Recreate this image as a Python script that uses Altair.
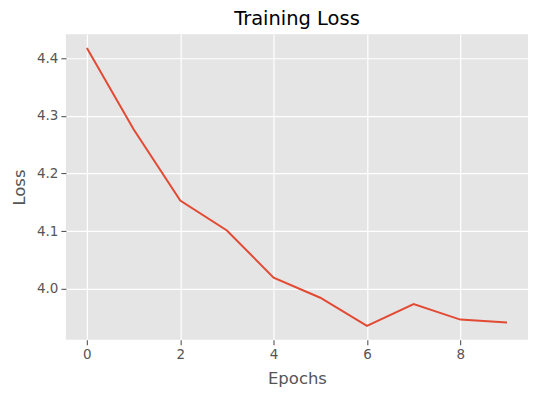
import altair as alt
import pandas as pd

epochs = [0, 1, 2, 3, 4, 5, 6, 7, 8, 9]
loss = [4.418, 4.277, 4.153, 4.101, 4.019, 3.984, 3.935, 3.973, 3.946, 3.941]
x_ticks = [0, 2, 4, 6, 8]
y_ticks = [4.0, 4.1, 4.2, 4.3, 4.4]

df = pd.DataFrame({"Epochs": epochs, "Loss": loss})

chart = alt.Chart(df).mark_line(color="#E24A33", strokeWidth=2, clip=True).encode(
    x=alt.X("Epochs:Q", scale=alt.Scale(domain=[-0.45, 9.45], nice=False, zero=False),
            axis=alt.Axis(values=x_ticks, format="d", title="Epochs")),
    y=alt.Y("Loss:Q", scale=alt.Scale(domain=[3.911, 4.442], nice=False, zero=False),
            axis=alt.Axis(values=y_ticks, format=".1f", title="Loss")),
).properties(
    width=463, height=306,
    title=alt.TitleParams("Training Loss", fontSize=19.5, font="DejaVu Sans", fontWeight="normal",
                          color="#000000", offset=5),
    autosize=alt.AutoSizeParams(type="none"),
    padding={"left": 58, "top": 26, "right": 4, "bottom": 50},
).configure_view(
    fill="#E5E5E5", stroke=None
).configure_axis(
    domain=False, grid=True, gridColor="#FFFFFF", gridWidth=1.2,
    tickColor="#555555", tickSize=5, tickWidth=1.1,
    labelColor="#555555", labelFont="DejaVu Sans", labelFontSize=13.5, labelPadding=3,
    titleColor="#555555", titleFont="DejaVu Sans", titleFontSize=16.5, titleFontWeight="normal",
).configure_axisX(titlePadding=9).configure_axisY(titlePadding=9)

chart.save("out.html", embed_options={"renderer": "svg", "actions": False})
